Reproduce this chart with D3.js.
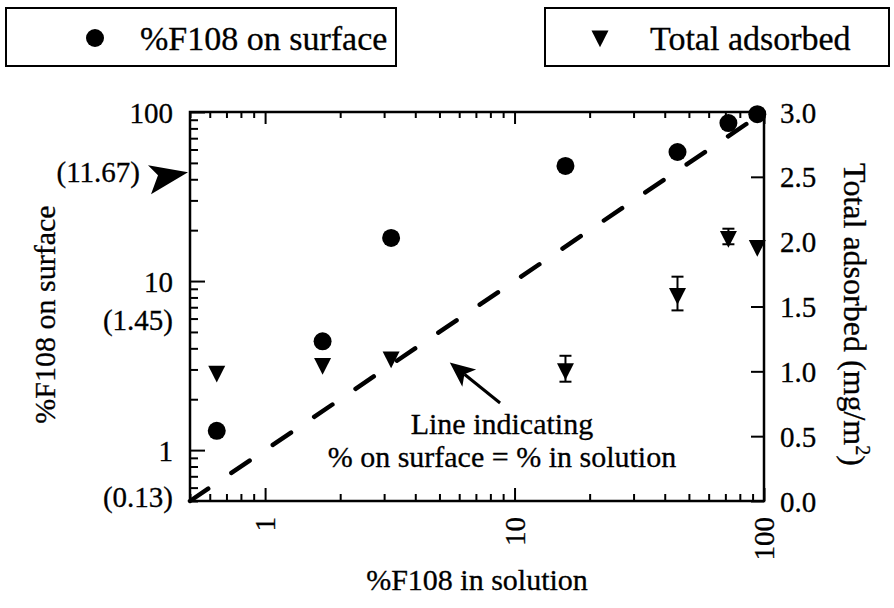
<!DOCTYPE html>
<html><head><meta charset="utf-8">
<script src="https://cdn.jsdelivr.net/npm/d3@7"></script>
<style>
body{margin:0;background:#fff}
svg{display:block}
text{font-family:"Liberation Serif","Times New Roman",serif;fill:#000;stroke:#000;stroke-width:0.3px}
</style>
</head><body>
<svg id="c" width="894" height="608"></svg>
<script>
// ---- data ----
const solutionPct   = [0.64, 1.7, 3.2, 16, 45, 72, 94];        // x: %F108 in solution
const surfacePct    = [1.3, 4.4, 18, 48, 58, 86, 97];          // left y: %F108 on surface
const totalAdsorbed = [1.0, 1.06, 1.11, 1.02, 1.6, 2.04, 1.97]; // right y: mg/m2
const adsorbedErr   = [0, 0, 0, 0.1, 0.13, 0.06, 0];
const xTickLabels   = [1, 10, 100];
const yLeftLabels   = [1, 10, 100];
const yRightTicks   = [0, 0.5, 1, 1.5, 2, 2.5, 3];
const leftNoteText  = ["(11.67)", "(1.45)", "(0.13)"];
const leftNoteAt    = [44, 5.9, 0.53];
const legendLabels  = ["%F108 on surface", "Total adsorbed"];

// ---- layout ----
const L = 190, R = 764, T = 112, B = 501;
const svg = d3.select("#c");

const x  = d3.scaleLog().domain([0.5, 100]).range([L, R]);
const yL = d3.scaleLog().domain([0.5, 100]).range([B, T]);
const yR = d3.scaleLinear().domain([0, 3]).range([B, T]);

const logTicks = x.ticks();
const isMajor = v => Math.abs(Math.log10(v) - Math.round(Math.log10(v))) < 1e-9;

function styleAxis(g){
  g.select(".domain").remove();
  g.selectAll(".tick line").attr("stroke","#000").attr("stroke-width",2);
}

const gB = svg.append("g").attr("transform",`translate(0,${B})`)
  .call(d3.axisBottom(x).tickValues(logTicks).tickSize(-7).tickFormat(""));
styleAxis(gB);
gB.selectAll(".tick line").attr("y2", d => isMajor(d) ? -13 : -7);

const gT = svg.append("g").attr("transform",`translate(0,${T})`)
  .call(d3.axisTop(x).tickValues(logTicks).tickSize(-6).tickFormat(""));
styleAxis(gT);
gT.selectAll(".tick line").attr("y2", d => isMajor(d) ? 12 : 6);

const gL = svg.append("g").attr("transform",`translate(${L},0)`)
  .call(d3.axisLeft(yL).tickValues(yL.ticks()).tickSize(-8)
        .tickPadding(17).tickFormat(d => yLeftLabels.includes(d) ? String(d) : ""));
styleAxis(gL);
gL.selectAll(".tick line").attr("x2", d => isMajor(d) ? 15 : 8);
gL.selectAll(".tick text").attr("font-size",29).attr("font-family",null).attr("dy","0.35em");

const gR = svg.append("g").attr("transform",`translate(${R},0)`)
  .call(d3.axisRight(yR).tickValues(yRightTicks).tickSize(-13).tickPadding(16).tickFormat(d3.format(".1f")));
styleAxis(gR);
gR.selectAll(".tick text").attr("font-size",29).attr("font-family",null).attr("dy","0.35em");

svg.append("rect").attr("x",L).attr("y",T).attr("width",R-L).attr("height",B-T)
  .attr("fill","none").attr("stroke","#000").attr("stroke-width",2.5);

svg.append("g").selectAll("text").data(xTickLabels).join("text")
  .attr("transform", d => `translate(${x(d)},${B+16}) rotate(-90)`)
  .attr("text-anchor","end").attr("dy","0.35em").attr("font-size",29)
  .text(d => d);

svg.append("g").selectAll("text").data(leftNoteText).join("text")
  .attr("x", (d,i) => i === 0 ? 140 : 173)
  .attr("y", (d,i) => yL(leftNoteAt[i]))
  .attr("dy","0.35em").attr("text-anchor","end").attr("font-size",29)
  .text(d => d);
{
  const ty = yL(leftNoteAt[0]);
  const tx = L - 2;
  svg.append("path")
    .attr("d", `M${tx},${ty} L${tx-40},${ty-7} L${tx-30},${ty+3} L${tx-37},${ty+22} Z`)
    .attr("fill","#000");
}

svg.append("text").attr("transform",`translate(44,${(T+B)/2+8}) rotate(-90)`)
  .attr("text-anchor","middle").attr("dy","0.35em").attr("font-size",30).text("%F108 on surface");
const rt = svg.append("text").attr("transform",`translate(855,${(T+B)/2+8}) rotate(90)`)
  .attr("text-anchor","middle").attr("dy","0.35em").attr("font-size",32);
rt.append("tspan").text("Total adsorbed (mg/m");
rt.append("tspan").attr("font-size",20).attr("dy","-0.6em").text("2");
rt.append("tspan").attr("dy","0.4em").text(")");
svg.append("text").attr("x",(L+R)/2).attr("y",590)
  .attr("text-anchor","middle").attr("font-size",30).text("%F108 in solution");

const diag = [0.5, 100];
svg.append("line")
  .attr("x1", x(diag[0])).attr("y1", yL(diag[0]))
  .attr("x2", x(diag[1])).attr("y2", yL(diag[1]))
  .attr("stroke","#000").attr("stroke-width",4.5).attr("stroke-linecap","round")
  .attr("stroke-dasharray","22,28");

const arrowTip  = [5.5, 3.3];
const arrowTail = [8.75, 1.9];
{
  const x1 = x(arrowTail[0]), y1 = yL(arrowTail[1]);
  const x2 = x(arrowTip[0]),  y2 = yL(arrowTip[1]);
  const dx = x1 - x2, dy = y1 - y2, len = Math.hypot(dx, dy);
  const ux = dx/len, uy = dy/len, px = uy, py = -ux;
  const hl = 25, hw = 11;
  const bx = x2 + ux*hl, by = y2 + uy*hl;
  const nx = x2 + ux*hl*0.75, ny = y2 + uy*hl*0.75;
  svg.append("line").attr("x1",x1).attr("y1",y1).attr("x2",nx).attr("y2",ny)
    .attr("stroke","#000").attr("stroke-width",3);
  svg.append("path")
    .attr("d",`M${x2},${y2} L${bx+px*hw},${by+py*hw} L${nx},${ny} L${bx-px*hw},${by-py*hw} Z`)
    .attr("fill","#000");
}
const noteX = 8.9, noteY1 = 1.25, noteY2 = 0.79;
svg.append("text").attr("x", x(noteX)).attr("y", yL(noteY1)).attr("text-anchor","middle")
  .attr("font-size",30).text("Line indicating");
svg.append("text").attr("x", x(noteX)).attr("y", yL(noteY2)).attr("text-anchor","middle")
  .attr("font-size",30).text("% on surface = % in solution");

const eb = svg.append("g").attr("stroke","#000").attr("stroke-width",2);
solutionPct.forEach((s,i) => {
  const e = adsorbedErr[i]; if (!e) return;
  const cx = x(s), ya = yR(totalAdsorbed[i]-e), yb = yR(totalAdsorbed[i]+e);
  eb.append("line").attr("x1",cx).attr("x2",cx).attr("y1",ya).attr("y2",yb);
  eb.append("line").attr("x1",cx-6).attr("x2",cx+6).attr("y1",ya).attr("y2",ya);
  eb.append("line").attr("x1",cx-6).attr("x2",cx+6).attr("y1",yb).attr("y2",yb);
});

const triPath = "M-8.5,-5.6 L8.5,-5.6 L0,11.2 Z";
svg.append("g").selectAll("path").data(solutionPct).join("path")
  .attr("d", triPath)
  .attr("transform",(d,i) => `translate(${x(d)},${yR(totalAdsorbed[i])})`)
  .attr("fill","#000");
svg.append("g").selectAll("circle").data(solutionPct).join("circle")
  .attr("cx", d => x(d)).attr("cy",(d,i) => yL(surfacePct[i])).attr("r",9)
  .attr("fill","#000");

const boxes = [{x0:6, x1:396, mk:"circle", mx:95, tx:140}, {x0:545, x1:889, mk:"tri", mx:600, tx:650}];
boxes.forEach((b,i) => {
  svg.append("rect").attr("x",b.x0).attr("y",8).attr("width",b.x1-b.x0).attr("height",58)
    .attr("fill","none").attr("stroke","#000").attr("stroke-width",2);
  if (b.mk === "circle") svg.append("circle").attr("cx",b.mx).attr("cy",38).attr("r",9).attr("fill","#000");
  else svg.append("path").attr("d",triPath).attr("transform",`translate(${b.mx},36)`).attr("fill","#000");
  svg.append("text").attr("x",b.tx).attr("y",38).attr("dy","0.35em").attr("font-size",34).text(legendLabels[i]);
});
</script>
</body></html>
